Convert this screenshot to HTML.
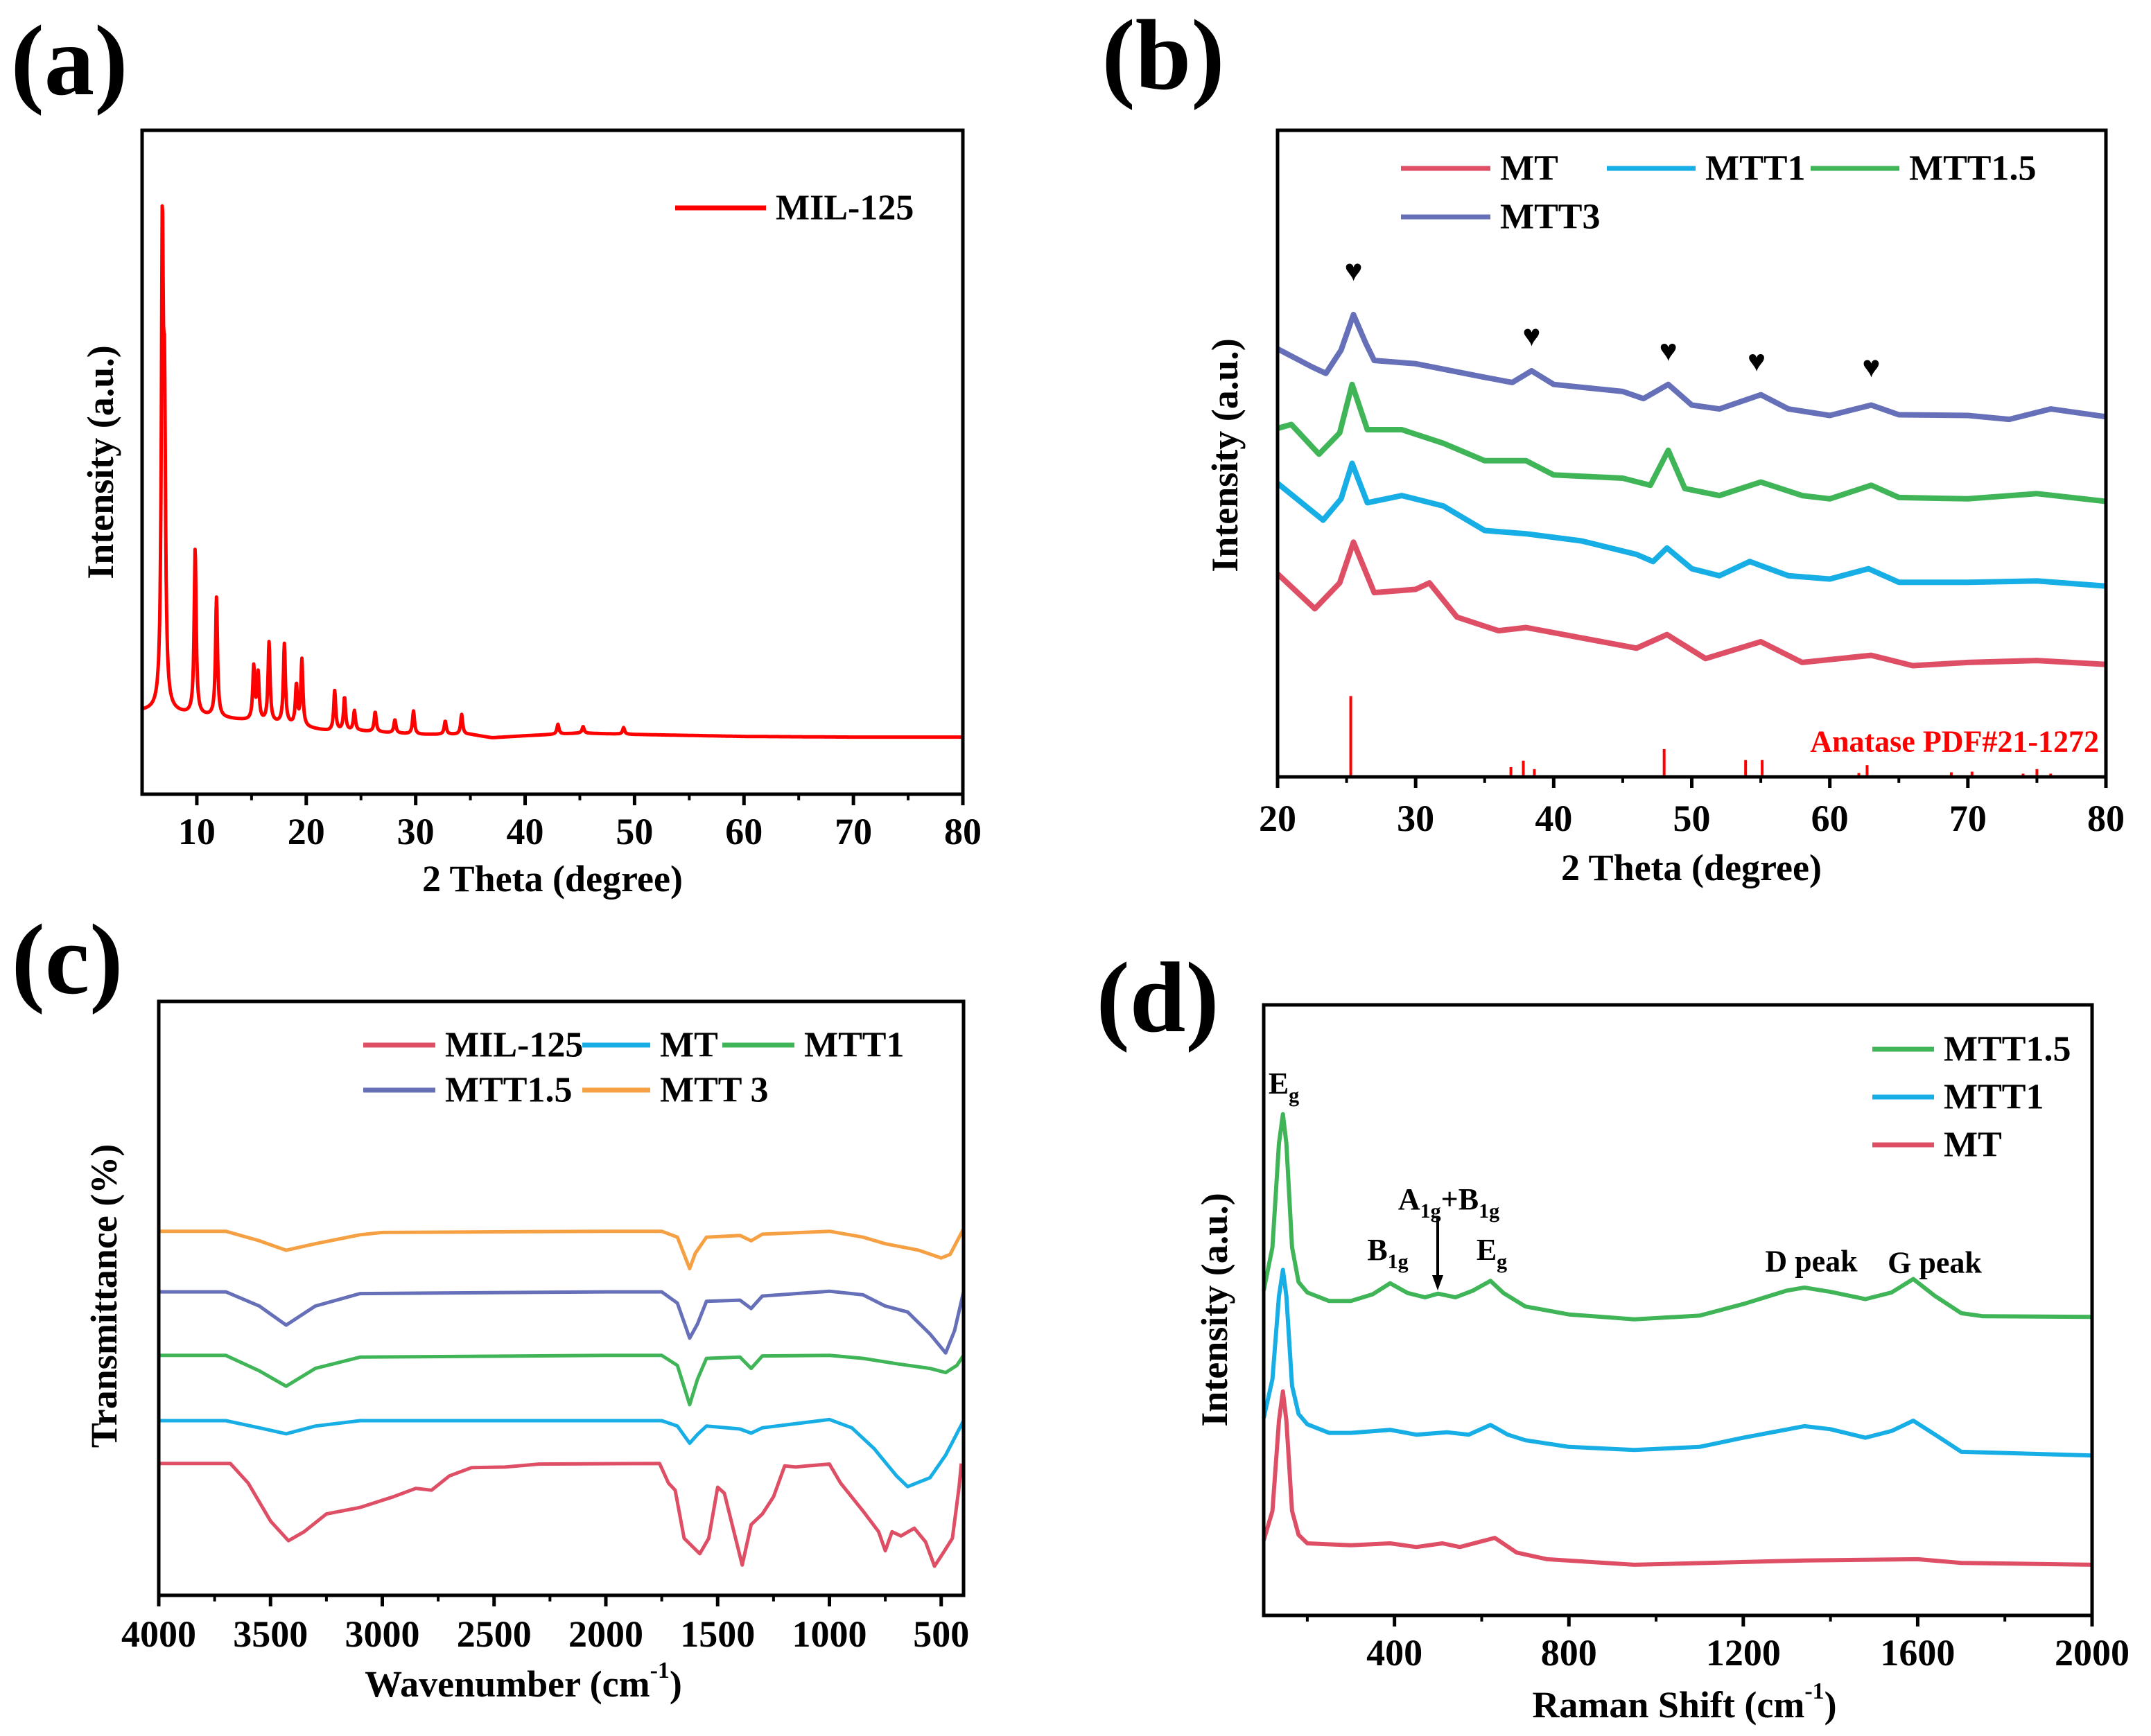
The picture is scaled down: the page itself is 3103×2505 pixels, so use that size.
<!DOCTYPE html>
<html><head><meta charset="utf-8">
<style>
html,body{margin:0;padding:0;background:#fff;}
svg{display:block;font-family:"Liberation Serif",serif;font-weight:bold;}
</style></head>
<body>
<svg id="fig" width="3103" height="2505" viewBox="0 0 3103 2505" xmlns="http://www.w3.org/2000/svg">
<rect width="3103" height="2505" fill="#fff"/>
<g id="root"></g>
</svg>
<script>
// ---------- Panel (a) data ----------
const aBaseX = [5,7,9,12,15,18,20,22,25,30,35,37,40,45,50,60,70,80];
const aBaseV = [12.5,12.5,12,11.5,11,10.5,10,9.5,9.5,9,9,8.5,8.8,9.2,9,8.7,8.6,8.6];
const aPeakPos = [6.85,7.05,9.85,11.8,15.2,15.6,16.6,18.0,19.1,19.6,22.6,23.5,24.4,26.3,28.1,29.8,32.7,34.2,43,45.3,49];
const aPeakH = [68,40,25,18,8,7,12,12,6,10,6,5,3,3,2,3.5,2,3,1.5,1,1];
const aTicks = [10,20,30,40,50,60,70,80];

// ---------- Panel (b) data ----------
const bX_MTT3 = [20,22.5,23.5,24.6,25.5,26.4,27,30,35,37,38.4,40,45,46.5,48.3,50,52,55,57,60,63,65,70,73,76,80];
const bV_MTT3 = [66.2,63.4,62.4,66,71.5,67,64.4,63.9,61.8,61,62.8,60.7,59.6,58.5,60.7,57.5,56.9,59.1,56.9,55.9,57.5,56,55.9,55.3,56.9,55.7];
const bX_MTT15 = [20,21,23,24.5,25.4,26.5,29,32,35,38,40,45,47,48.3,49.5,52,55,58,60,63,65,70,75,80];
const bV_MTT15 = [53.9,54.5,49.9,53.2,60.7,53.7,53.7,51.6,48.9,48.9,46.7,46.2,45.1,50.5,44.6,43.5,45.6,43.5,43,45.1,43.2,43,43.8,42.6];
const bX_MTT1 = [20,23.3,24.6,25.4,26.5,29,32,35,38,42,46,47.2,48.2,50,52,54.2,57,60,62.8,65,70,75,80];
const bV_MTT1 = [45.4,39.7,43,48.5,42.4,43.5,41.9,38.1,37.6,36.5,34.4,33.3,35.4,32.2,31.1,33.3,31.1,30.6,32.2,30.1,30.1,30.3,29.5];
const bX_MT = [20,22.7,24.5,25.5,27,30,31,33,36,38,42,46,48.2,51,55,58,63,66,70,75,80];
const bV_MT = [31.4,26,30,36.3,28.5,29,30,24.7,22.6,23.1,21.5,19.9,22,18.3,20.9,17.7,18.8,17.2,17.7,18,17.4];
const bRefPos = [25.3,36.9,37.8,38.6,48.0,53.9,55.1,62.1,62.7,68.8,70.3,74.0,75.0,76.0];
const bRefH = [12.5,1.5,2.5,1.2,4.3,2.6,2.6,0.6,1.8,0.7,0.8,0.5,1.2,0.5];
const bHeartX = [25.5,38.4,48.3,54.7,63];
const bHeartV = [78.3,68.2,65.9,64.3,63.4];
const bTicks = [20,30,40,50,60,70,80];

// ---------- Panel (c) data ----------
const cX_MTT3 = [4000,3700,3550,3430,3300,3100,3000,2000,1750,1680,1625,1600,1550,1400,1350,1300,1000,850,750,600,500,460,400];
const cV_MTT3 = [61.3,61.3,59.7,58.1,59.2,60.7,61.1,61.3,61.3,60.3,55,57.6,60.3,60.6,59.7,60.8,61.3,60.3,59.2,58.1,56.8,57.4,61.7];
const cX_MTT15 = [4000,3700,3550,3430,3300,3100,2000,1750,1680,1625,1590,1550,1400,1350,1300,1000,850,750,650,550,480,440,400];
const cV_MTT15 = [51.1,51.1,48.7,45.5,48.7,50.8,51.1,51.1,49.2,43.3,45.7,49.5,49.7,48.3,50.4,51.2,50.6,48.7,47.7,44,40.8,44.6,51.1];
const cX_MTT1 = [4000,3700,3550,3430,3300,3100,2000,1750,1680,1625,1590,1550,1400,1350,1300,1000,850,700,550,480,430,400];
const cV_MTT1 = [40.4,40.4,37.8,35.2,38.2,40.1,40.4,40.4,38.7,32.1,36.4,39.9,40.1,38.2,40.3,40.4,39.9,39,38.2,37.5,38.7,40.4];
const cX_MT = [4000,3700,3550,3430,3300,3100,1750,1680,1625,1590,1550,1400,1350,1300,1000,900,800,700,650,550,480,400];
const cV_MT = [29.4,29.4,28.2,27.2,28.5,29.4,29.4,28.5,25.6,27.1,28.5,28,27.3,28.2,29.6,28.2,24.7,20.1,18.3,19.8,23.6,29.4];
const cX_MIL = [4000,3680,3600,3500,3420,3350,3250,3100,2950,2850,2780,2700,2600,2450,2300,1760,1720,1690,1650,1580,1540,1500,1470,1390,1350,1300,1250,1200,1150,1100,1000,950,850,780,750,720,680,620,570,530,490,450,420,410];
const cV_MIL = [22.2,22.2,18.9,12.5,9.2,10.7,13.7,14.8,16.6,18,17.7,20.1,21.5,21.6,22.1,22.2,18.9,17.7,9.6,7,9.6,18.2,17.2,5.1,11.9,13.7,16.6,21.8,21.6,21.8,22.1,18.9,14.2,10.7,7.5,10.7,10,11.3,9,4.9,7.2,9.6,18.2,22.2];
const cTicks = [4000,3500,3000,2500,2000,1500,1000,500];

// ---------- Panel (d) data ----------
const dX_MTT15 = [100,120,135,144,152,165,180,200,250,300,350,390,430,470,500,540,580,620,650,700,800,950,1100,1200,1300,1340,1400,1480,1540,1590,1640,1700,1750,2000];
const dV_MTT15 = [53.2,60.3,77.3,82.1,77.3,60.3,54.6,52.9,51.5,51.5,52.6,54.4,52.8,52.1,52.7,52.1,53.2,54.8,52.8,50.6,49.3,48.5,49.1,51,53.2,53.7,53,51.8,52.9,55.1,52.3,49.5,49,48.9];
const dX_MTT1 = [100,120,135,144,152,165,180,200,250,300,390,450,520,570,620,660,700,800,950,1100,1200,1340,1400,1480,1540,1590,1640,1700,2000];
const dV_MTT1 = [32.3,38.7,52.3,56.6,52.3,37.6,33,31.3,29.9,29.9,30.4,29.6,30,29.6,31.2,29.6,28.7,27.6,27.1,27.6,29.1,31,30.5,29.1,30.2,31.9,29.6,26.8,26.2];
const dX_MT = [100,120,135,144,152,165,180,200,300,390,450,510,550,630,680,750,950,1340,1600,1700,2000];
const dV_MT = [12.3,17.1,31.9,36.7,31.9,17.1,13.2,11.8,11.5,11.8,11.2,11.8,11.2,12.7,10.3,9.2,8.3,9,9.2,8.6,8.3];
const dTicks = [400,800,1200,1600,2000];
const dMinor = [200,600,1000,1400,1800];

// ---------- helpers ----------
const NS = "http://www.w3.org/2000/svg";
const root = document.getElementById('root');
function mk(tag, attrs, parent){
  const e = document.createElementNS(NS, tag);
  for (const k in attrs) e.setAttribute(k, attrs[k]);
  (parent||root).appendChild(e);
  return e;
}
function txt(s, x, y, size, opts, parent){
  const t = mk('text', Object.assign({x:x, y:y, 'font-size':size, 'text-anchor':'middle', 'dominant-baseline':'central', fill:'#000'}, opts||{}), parent);
  t.textContent = s;
  return t;
}
function scale(d0,d1,r0,r1){ return v => r0 + (v-d0)/(d1-d0)*(r1-r0); }
function interp(xs, vs, x){
  if (x<=xs[0]) return vs[0];
  for (let i=1;i<xs.length;i++){ if (x<=xs[i]) { const t=(x-xs[i-1])/(xs[i]-xs[i-1]); return vs[i-1]+t*(vs[i]-vs[i-1]); } }
  return vs[vs.length-1];
}
function frame(g, x0,y0,x1,y1){
  const r = mk('rect',{x:x0,y:y0,width:x1-x0,height:y1-y0,fill:'none',stroke:'#000','stroke-width':5},g);
  
  
}
function series(g, xs, vs, sx, sy, color, w, name){
  const pts = xs.map((x,i)=> sx(x).toFixed(1)+','+sy(vs[i]).toFixed(1)).join(' ');
  const p = mk('polyline',{points:pts,fill:'none',stroke:color,'stroke-width':w,'stroke-linejoin':'round'},g);
  
  
  return p;
}
function legendLine(g,x0,x1,y,color,label,name){
  const l = mk('line',{x1:x0,y1:y,x2:x1,y2:y,stroke:color,'stroke-width':7},g);
  
  
  const t = txt(label, x1+14, y, 52, {'text-anchor':'start'}, g);
  
  
}
function xticks(g, ticks, sx, y, len, labelY, labels, minor){
  ticks.forEach((v,i)=>{
    const l = mk('line',{x1:sx(v),y1:y,x2:sx(v),y2:y+len,stroke:'#000','stroke-width':5},g);
    
    
    if (labels){
      const t = txt(String(v), sx(v), labelY, 54, {}, g);
      
      
    }
  });
  (minor||[]).forEach(v=>{
    const l = mk('line',{x1:sx(v),y1:y,x2:sx(v),y2:y+len*0.55,stroke:'#000','stroke-width':4},g);
    
    
  });
}

// ================= Panel (a) =================
(function(){
  const g = mk('g',{});
  
  
  const X0=205,X1=1389,Y0=188,Y1=1146;
  const sx = scale(5,80,X0,X1), sy = scale(0,100,Y1,Y0);
  const lab = txt('(a)', 100, 88, 145, {}, g);
   
  const xs=[], vs=[];
  for (let x=5; x<=80.0001; x+=0.04){
    let v = interp(aBaseX,aBaseV,x);
    for (let i=0;i<aPeakPos.length;i++){ const d=(x-aPeakPos[i])/0.11; v += aPeakH[i]/(1+d*d); }
    xs.push(x); vs.push(v);
  }
  series(g, xs, vs, sx, sy, '#ff0000', 5, 'mil125-xrd-line');
  frame(g,X0,Y0,X1,Y1);
  const minor=[]; for(let v=5; v<80; v+=10) minor.push(v);
  xticks(g, aTicks, sx, Y1, 16, 1200, true, minor.slice(1));
  const xt = txt('2 Theta (degree)', 797, 1268, 54, {}, g);
   
  const yt = txt('Intensity (a.u.)', 145, 667, 54, {transform:'rotate(-90 145 667)'}, g);
   
  legendLine(g, 974, 1105, 300, '#ff0000', 'MIL-125', 'legend-mil125');
})();

// ================= Panel (b) =================
(function(){
  const g = mk('g',{});
  
  
  const X0=1843,X1=3038,Y0=188,Y1=1121;
  const sx = scale(20,80,X0,X1), sy = scale(0,100,Y1,Y0);
  const lab = txt('(b)', 1678, 80, 145, {}, g);
   
  series(g, bX_MTT3, bV_MTT3, sx, sy, '#6670b8', 8, 'mtt3-xrd-line');
  series(g, bX_MTT15, bV_MTT15, sx, sy, '#3fb558', 8, 'mtt15-xrd-line');
  series(g, bX_MTT1, bV_MTT1, sx, sy, '#17aee6', 8, 'mtt1-xrd-line');
  series(g, bX_MT, bV_MT, sx, sy, '#de4f66', 8, 'mt-xrd-line');
  bRefPos.forEach((p,i)=>{
    const l = mk('line',{x1:sx(p),y1:Y1,x2:sx(p),y2:sy(bRefH[i]),stroke:'#ff0000','stroke-width':4},g);
    
    
  });
  bHeartX.forEach((p,i)=>{
    const h = txt('♥', sx(p), sy(bHeartV[i]), 44, {}, g);
    
    
  });
  const an = txt('Anatase PDF#21-1272', 3028, 1070, 44, {'text-anchor':'end', fill:'#ff0000'}, g);
   
  frame(g,X0,Y0,X1,Y1);
  xticks(g, bTicks, sx, Y1, 16, 1181, true, [25,35,45,55,65,75]);
  const xt = txt('2 Theta (degree)', 2440, 1252, 54, {}, g);
   
  const yt = txt('Intensity (a.u.)', 1767, 657, 54, {transform:'rotate(-90 1767 657)'}, g);
   
  legendLine(g, 2021, 2150, 243, '#de4f66', 'MT', 'legend-mt');
  legendLine(g, 2318, 2446, 243, '#17aee6', 'MTT1', 'legend-mtt1');
  legendLine(g, 2612, 2740, 243, '#3fb558', 'MTT1.5', 'legend-mtt15');
  legendLine(g, 2021, 2150, 313, '#6670b8', 'MTT3', 'legend-mtt3');
})();

// ================= Panel (c) =================
(function(){
  const g = mk('g',{});
  
  
  const X0=229,X1=1390,Y0=1445,Y1=2302;
  const sx = scale(4000,400,X0,X1), sy = scale(0,100,Y1,Y0);
  const lab = txt('(c)', 97, 1385, 145, {}, g);
   
  series(g, cX_MTT3, cV_MTT3, sx, sy, '#f5a043', 5, 'mtt3-ftir-line');
  series(g, cX_MTT15, cV_MTT15, sx, sy, '#6670b8', 5, 'mtt15-ftir-line');
  series(g, cX_MTT1, cV_MTT1, sx, sy, '#3fb558', 5, 'mtt1-ftir-line');
  series(g, cX_MT, cV_MT, sx, sy, '#17aee6', 5, 'mt-ftir-line');
  series(g, cX_MIL, cV_MIL, sx, sy, '#de4f66', 5, 'mil125-ftir-line');
  frame(g,X0,Y0,X1,Y1);
  xticks(g, cTicks, sx, Y1, 16, 2358, true, [3750,3250,2750,2250,1750,1250,750]);
  const xt = g.appendChild(document.createElementNS(NS,'text'));
  xt.setAttribute('x',755); xt.setAttribute('y',2430); xt.setAttribute('font-size',54);
  xt.setAttribute('text-anchor','middle'); xt.setAttribute('dominant-baseline','central');
  xt.innerHTML = 'Wavenumber (cm<tspan font-size="34" dy="-20">-1</tspan><tspan dy="20">)</tspan>';
   
  const yt = txt('Transmittance (%)', 150, 1870, 54, {transform:'rotate(-90 150 1870)'}, g);
   
  legendLine(g, 524, 628, 1508, '#de4f66', 'MIL-125', 'legend-mil125');
  legendLine(g, 840, 938, 1508, '#17aee6', 'MT', 'legend-mt');
  legendLine(g, 1042, 1146, 1508, '#3fb558', 'MTT1', 'legend-mtt1');
  legendLine(g, 524, 628, 1573, '#6670b8', 'MTT1.5', 'legend-mtt15');
  legendLine(g, 840, 938, 1573, '#f5a043', 'MTT 3', 'legend-mtt3');
})();

// ================= Panel (d) =================
(function(){
  const g = mk('g',{});
  
  
  const X0=1823,X1=3018,Y0=1450,Y1=2331;
  const sx = scale(100,2000,X0,X1), sy = scale(0,100,Y1,Y0);
  const lab = txt('(d)', 1670, 1440, 145, {}, g);
   
  series(g, dX_MTT15, dV_MTT15, sx, sy, '#3fb558', 6, 'mtt15-raman-line');
  series(g, dX_MTT1, dV_MTT1, sx, sy, '#17aee6', 6, 'mtt1-raman-line');
  series(g, dX_MT, dV_MT, sx, sy, '#de4f66', 6, 'mt-raman-line');
  frame(g,X0,Y0,X1,Y1);
  xticks(g, dTicks, sx, Y1, 16, 2385, true, dMinor);
  const xt = g.appendChild(document.createElementNS(NS,'text'));
  xt.setAttribute('x',2430); xt.setAttribute('y',2460); xt.setAttribute('font-size',54);
  xt.setAttribute('text-anchor','middle'); xt.setAttribute('dominant-baseline','central');
  xt.innerHTML = 'Raman Shift (cm<tspan font-size="34" dy="-20">-1</tspan><tspan dy="20">)</tspan>';
   
  const yt = txt('Intensity (a.u.)', 1752, 1890, 54, {transform:'rotate(-90 1752 1890)'}, g);
   
  legendLine(g, 2701, 2790, 1514, '#3fb558', 'MTT1.5', 'legend-mtt15');
  legendLine(g, 2701, 2790, 1583, '#17aee6', 'MTT1', 'legend-mtt1');
  legendLine(g, 2701, 2790, 1652, '#de4f66', 'MT', 'legend-mt');
  function ann(x,y,main,sub,name,extra){
    const t = g.appendChild(document.createElementNS(NS,'text'));
    t.setAttribute('x',x); t.setAttribute('y',y); t.setAttribute('font-size',44);
    t.setAttribute('text-anchor','middle');
    t.innerHTML = main+'<tspan font-size="30" dy="12">'+sub+'</tspan>'+(extra||'');
     
  }
  ann(1852, 1578, 'E', 'g', 'eg-annotation-1');
  ann(2002, 1818, 'B', '1g', 'b1g-annotation');
  ann(2090, 1745, 'A', '1g', 'a1g-b1g-annotation', '<tspan dy="-12" font-size="44">+B</tspan><tspan font-size="30" dy="12">1g</tspan>');
  ann(2152, 1818, 'E', 'g', 'eg-annotation-2');
  const dp = txt('D peak', 2613, 1820, 44, {}, g);
   
  const gp = txt('G peak', 2791, 1822, 44, {}, g);
   
  const ar = mk('line',{x1:2074,y1:1756,x2:2074,y2:1845,stroke:'#000','stroke-width':4},g);
   
  const ah = mk('polygon',{points:'2066,1840 2082,1840 2074,1862',fill:'#000'},g);
   
})();
</script>
</body></html>
